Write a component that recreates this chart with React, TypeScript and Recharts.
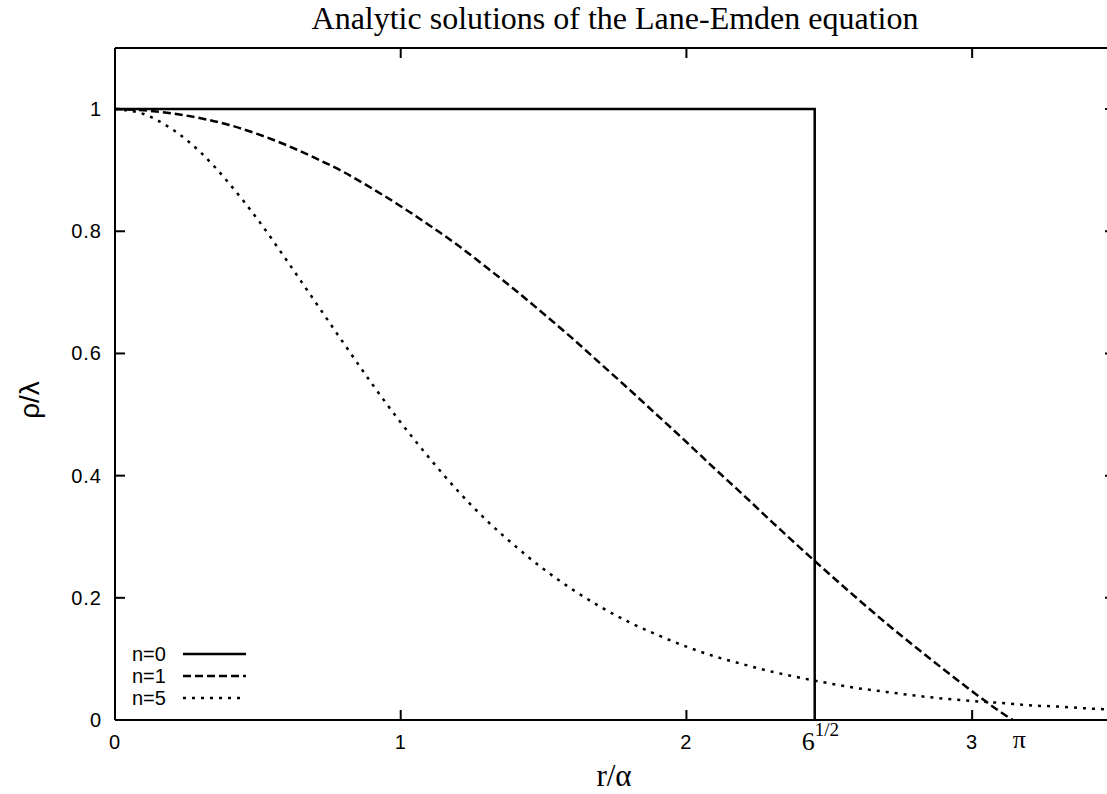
import { LineChart, Line, XAxis, YAxis, Legend } from "recharts"

// r/alpha sample points and the three density profiles
const n0X = [0, 2.449, 2.449]
const n0Y = [1, 1, 0]

const n1X = [
  0, 0.1, 0.2, 0.3, 0.4, 0.5, 0.6, 0.7, 0.8, 0.9, 1.0, 1.1, 1.2, 1.3, 1.4, 1.5, 1.6,
  1.7, 1.8, 1.9, 2.0, 2.1, 2.2, 2.3, 2.4, 2.5, 2.6, 2.7, 2.8, 2.9, 3.0, 3.1, 3.142,
]
const n1Y = [
  1, 0.998, 0.993, 0.985, 0.974, 0.959, 0.941, 0.92, 0.897, 0.87, 0.841, 0.81, 0.777,
  0.741, 0.704, 0.665, 0.625, 0.583, 0.541, 0.498, 0.455, 0.411, 0.368, 0.324, 0.281,
  0.239, 0.198, 0.158, 0.12, 0.083, 0.047, 0.013, 0,
]

const n5X = [
  0, 0.1, 0.2, 0.3, 0.4, 0.5, 0.6, 0.7, 0.8, 0.9, 1.0, 1.1, 1.2, 1.3, 1.4, 1.5, 1.6,
  1.7, 1.8, 1.9, 2.0, 2.1, 2.2, 2.3, 2.4, 2.5, 2.6, 2.7, 2.8, 2.9, 3.0, 3.1, 3.2, 3.3,
  3.4, 3.5,
]
const n5Y = [
  1, 0.992, 0.967, 0.929, 0.878, 0.819, 0.753, 0.685, 0.617, 0.55, 0.487, 0.429, 0.375,
  0.327, 0.285, 0.247, 0.214, 0.185, 0.16, 0.139, 0.12, 0.104, 0.091, 0.079, 0.069,
  0.06, 0.052, 0.046, 0.04, 0.035, 0.031, 0.028, 0.024, 0.022, 0.019, 0.017,
]

const seriesNames = ["n=0", "n=1", "n=5"]

const xTickValues = [0, 1, 2, 2.449, 3, 3.142]
const xTickLabels = ["0", "1", "2", "6^{1/2}", "3", "π"]
const xMarkTicks = [1, 2, 3]

const yTickValues = [0, 0.2, 0.4, 0.6, 0.8, 1]
const yTickLabels = ["0", "0.2", "0.4", "0.6", "0.8", "1"]

const toPoints = (xs: number[], ys: number[]) => xs.map((x, i) => ({ x, y: ys[i] }))

const n0Data = toPoints(n0X, n0Y)
const n1Data = toPoints(n1X, n1Y)
const n5Data = toPoints(n5X, n5Y)

const SANS = "'Liberation Sans', Arial, sans-serif"
const SERIF = "'Liberation Serif', 'Times New Roman', serif"
const dashes = ["", "8 4", "3 6"]

function XTick(props: any) {
  const { x, y, payload } = props
  const label = xTickLabels[xTickValues.indexOf(payload.value)] ?? ""
  if (label.includes("^{")) {
    const [base, sup] = label.replace("}", "").split("^{")
    return (
      <g>
        <text x={x} y={y} dy={30} textAnchor="end" fontFamily={SERIF} fontSize={26} fill="#000">
          {base}
        </text>
        <text x={x} y={y} dy={16} textAnchor="start" fontFamily={SERIF} fontSize={19} fill="#000">
          {sup}
        </text>
      </g>
    )
  }
  if (label === "π") {
    return (
      <text x={x} y={y} dy={28} textAnchor="start" fontFamily={SERIF} fontSize={26} fill="#000">
        {label}
      </text>
    )
  }
  return (
    <text x={x} y={y} dy={29} textAnchor="middle" fontFamily={SANS} fontSize={20} letterSpacing={1} fill="#000">
      {label}
    </text>
  )
}

function YTick(props: any) {
  const { x, y, payload } = props
  const label = yTickLabels[yTickValues.indexOf(payload.value)] ?? ""
  return (
    <text x={x} y={y} dy={7} textAnchor="end" fontFamily={SANS} fontSize={20} letterSpacing={1} fill="#000">
      {label}
    </text>
  )
}

// tick marks only, no label
const NoLabel = () => <g />

function LegendBox() {
  return (
    <svg width={140} height={70}>
      {seriesNames.map((name, i) => (
        <g key={name}>
          <text x={7} y={14 + i * 22} dy={7} fontFamily={SANS} fontSize={20} fill="#000">
            {name}
          </text>
          <line
            x1={58}
            x2={i === 2 ? 116 : 121}
            y1={14 + i * 22}
            y2={14 + i * 22}
            stroke="#000"
            strokeWidth={2.5}
            strokeDasharray={dashes[i] || undefined}
          />
        </g>
      ))}
    </svg>
  )
}

export default function App() {
  const axisStroke = { stroke: "#000", strokeWidth: 2 }
  const tickStroke = { stroke: "#000", strokeWidth: 2 }
  return (
    <div
      style={{
        position: "fixed",
        left: 0,
        top: 0,
        width: 1107,
        height: 794,
        overflow: "hidden",
        background: "#fff",
      }}
    >
      <div
        style={{
          position: "absolute",
          left: 615,
          top: 2,
          transform: "translateX(-50%)",
          whiteSpace: "nowrap",
          fontFamily: SERIF,
          fontSize: 32,
          lineHeight: "32px",
        }}
      >
        Analytic solutions of the Lane-Emden equation
      </div>

      <LineChart width={1130} height={794} data={n5Data} margin={{ top: 48, right: 15, bottom: 73, left: 114 }}>
        <XAxis
          xAxisId="b"
          type="number"
          dataKey="x"
          domain={[0, 3.5]}
          allowDataOverflow
          ticks={xTickValues}
          interval={0}
          tick={XTick}
          tickLine={false}
          tickSize={0}
          tickMargin={0}
          axisLine={axisStroke}
          height={1}
        />
        <XAxis
          xAxisId="bi"
          type="number"
          dataKey="x"
          domain={[0, 3.5]}
          allowDataOverflow
          ticks={xMarkTicks}
          interval={0}
          mirror
          tick={NoLabel}
          tickLine={tickStroke}
          tickSize={10}
          axisLine={false}
          height={1}
        />
        <XAxis
          xAxisId="t"
          orientation="top"
          type="number"
          dataKey="x"
          domain={[0, 3.5]}
          allowDataOverflow
          ticks={xMarkTicks}
          interval={0}
          mirror
          tick={NoLabel}
          tickLine={tickStroke}
          tickSize={10}
          axisLine={axisStroke}
          height={1}
        />
        <YAxis
          yAxisId="l"
          type="number"
          domain={[0, 1.1]}
          allowDataOverflow
          ticks={yTickValues}
          interval={0}
          tick={YTick}
          tickLine={false}
          tickSize={0}
          tickMargin={13}
          axisLine={axisStroke}
          width={1}
        />
        <YAxis
          yAxisId="li"
          type="number"
          domain={[0, 1.1]}
          allowDataOverflow
          ticks={yTickValues}
          interval={0}
          mirror
          tick={NoLabel}
          tickLine={tickStroke}
          tickSize={10}
          axisLine={false}
          width={1}
        />
        <YAxis
          yAxisId="r"
          orientation="right"
          type="number"
          domain={[0, 1.1]}
          allowDataOverflow
          ticks={yTickValues}
          interval={0}
          mirror
          tick={NoLabel}
          tickLine={tickStroke}
          tickSize={10}
          axisLine={axisStroke}
          width={1}
        />
        <Legend
          layout="vertical"
          align="center"
          verticalAlign="middle"
          content={() => <LegendBox />}
          wrapperStyle={{ left: 125, top: 640, width: 140, height: 70 }}
        />
        <Line
          xAxisId="b"
          yAxisId="l"
          data={n0Data}
          dataKey="y"
          name={seriesNames[0]}
          type="linear"
          stroke="#000"
          strokeWidth={2.5}
          dot={false}
          activeDot={false}
          isAnimationActive={false}
        />
        <Line
          xAxisId="b"
          yAxisId="l"
          data={n1Data}
          dataKey="y"
          name={seriesNames[1]}
          type="monotone"
          stroke="#000"
          strokeWidth={2.5}
          strokeDasharray={dashes[1]}
          dot={false}
          activeDot={false}
          isAnimationActive={false}
        />
        <Line
          xAxisId="b"
          yAxisId="l"
          data={n5Data}
          dataKey="y"
          name={seriesNames[2]}
          type="monotone"
          stroke="#000"
          strokeWidth={2.5}
          strokeDasharray={dashes[2]}
          dot={false}
          activeDot={false}
          isAnimationActive={false}
        />
      </LineChart>

      <div
        style={{
          position: "absolute",
          left: 614,
          top: 760,
          transform: "translateX(-50%)",
          whiteSpace: "nowrap",
          fontFamily: SERIF,
          fontSize: 31,
          lineHeight: "31px",
        }}
      >
        r/α
      </div>
      <div
        style={{
          position: "absolute",
          left: 30,
          top: 400,
          transform: "translate(-50%, -50%) rotate(-90deg)",
          whiteSpace: "nowrap",
          fontFamily: SANS,
          fontSize: 28,
          lineHeight: "28px",
        }}
      >
        ρ/λ
      </div>
    </div>
  )
}
